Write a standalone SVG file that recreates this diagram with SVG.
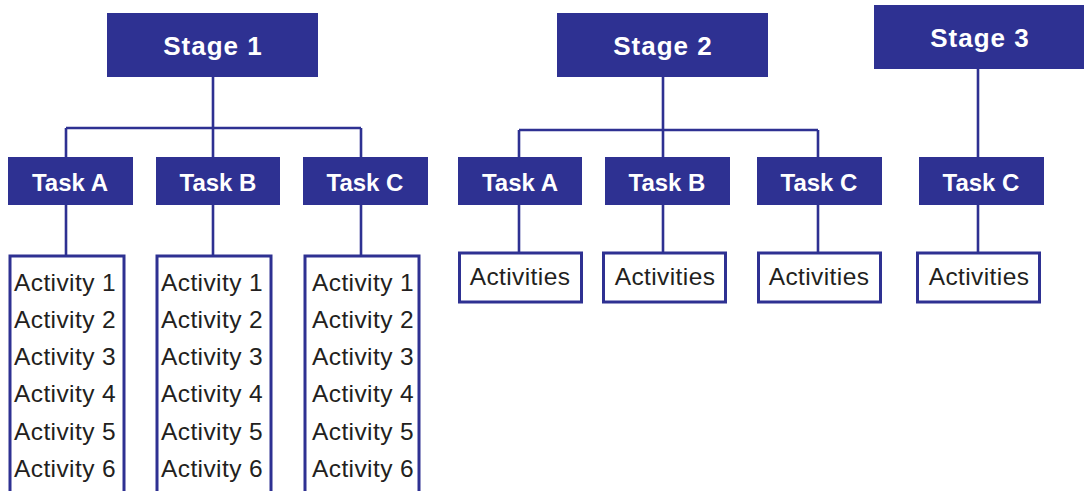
<svg xmlns="http://www.w3.org/2000/svg" width="1084" height="491" viewBox="0 0 1084 491">
  <style>
    .stage { fill: #2e3192; }
    .task { fill: #2e3192; }
    .act { fill: #ffffff; stroke: #2e3192; stroke-width: 3; }
    .link { fill: none; stroke: #2e3192; stroke-width: 2.6; }
    .hd { font-family: "Liberation Sans", Arial, sans-serif; font-weight: bold; fill: #ffffff; text-anchor: middle; }
    .st { font-size: 26px; letter-spacing: 1px; }
    .tk { font-size: 24px; }
    .body { font-family: "Liberation Sans", Arial, sans-serif; font-size: 24.5px; fill: #231f20; letter-spacing: 0.4px; }
    .mid { text-anchor: middle; }
  </style>

  <rect width="1084" height="491" fill="#ffffff"/>

  <g id="connectors">
    <!-- Stage 1 -->
    <path class="link" d="M213,77 V128 M66,128 H361 M66,128 V157 M213,128 V157 M361,128 V157"/>
    <path class="link" d="M66,205 V255 M213,205 V255 M361,205 V255"/>
    <!-- Stage 2 -->
    <path class="link" d="M663,77 V130 M519,130 H818 M519,130 V157 M663,130 V157 M818,130 V157"/>
    <path class="link" d="M519,205 V252 M663,205 V252 M818,205 V252"/>
    <!-- Stage 3 -->
    <path class="link" d="M978,69 V157 M978,205 V252"/>
  </g>

  <!-- Stage 1 branch -->
  <g id="stage1">
    <rect class="stage" x="107" y="13" width="211" height="64"/>
    <text class="hd st" x="213" y="55">Stage 1</text>
  </g>
  <g id="s1-taskA">
    <rect class="task" x="8" y="157" width="125" height="48"/>
    <text class="hd tk" x="70" y="191">Task A</text>
  </g>
  <g id="s1-taskB">
    <rect class="task" x="156" y="157" width="124" height="48"/>
    <text class="hd tk" x="218" y="191">Task B</text>
  </g>
  <g id="s1-taskC">
    <rect class="task" x="303" y="157" width="125" height="48"/>
    <text class="hd tk" x="365" y="191">Task C</text>
  </g>
  <g id="s1-taskA-activities">
    <rect class="act" x="10" y="256" width="114" height="250"/>
    <text class="body" x="14" y="291">Activity 1</text>
    <text class="body" x="14" y="328">Activity 2</text>
    <text class="body" x="14" y="365">Activity 3</text>
    <text class="body" x="14" y="402">Activity 4</text>
    <text class="body" x="14" y="440">Activity 5</text>
    <text class="body" x="14" y="477">Activity 6</text>
  </g>
  <g id="s1-taskB-activities">
    <rect class="act" x="157" y="256" width="114" height="250"/>
    <text class="body" x="161" y="291">Activity 1</text>
    <text class="body" x="161" y="328">Activity 2</text>
    <text class="body" x="161" y="365">Activity 3</text>
    <text class="body" x="161" y="402">Activity 4</text>
    <text class="body" x="161" y="440">Activity 5</text>
    <text class="body" x="161" y="477">Activity 6</text>
  </g>
  <g id="s1-taskC-activities">
    <rect class="act" x="305" y="256" width="114" height="250"/>
    <text class="body" x="312" y="291">Activity 1</text>
    <text class="body" x="312" y="328">Activity 2</text>
    <text class="body" x="312" y="365">Activity 3</text>
    <text class="body" x="312" y="402">Activity 4</text>
    <text class="body" x="312" y="440">Activity 5</text>
    <text class="body" x="312" y="477">Activity 6</text>
  </g>

  <!-- Stage 2 branch -->
  <g id="stage2">
    <rect class="stage" x="557" y="13" width="211" height="64"/>
    <text class="hd st" x="663" y="55">Stage 2</text>
  </g>
  <g id="s2-taskA">
    <rect class="task" x="458" y="157" width="124" height="48"/>
    <text class="hd tk" x="520" y="191">Task A</text>
  </g>
  <g id="s2-taskB">
    <rect class="task" x="605" y="157" width="125" height="48"/>
    <text class="hd tk" x="667" y="191">Task B</text>
  </g>
  <g id="s2-taskC">
    <rect class="task" x="757" y="157" width="125" height="48"/>
    <text class="hd tk" x="819" y="191">Task C</text>
  </g>
  <g id="s2-taskA-activities">
    <rect class="act" x="459.5" y="253" width="122" height="49"/>
    <text class="body mid" x="520" y="285">Activities</text>
  </g>
  <g id="s2-taskB-activities">
    <rect class="act" x="603.5" y="253" width="122" height="49"/>
    <text class="body mid" x="665" y="285">Activities</text>
  </g>
  <g id="s2-taskC-activities">
    <rect class="act" x="758.5" y="253" width="122" height="49"/>
    <text class="body mid" x="819" y="285">Activities</text>
  </g>

  <!-- Stage 3 branch -->
  <g id="stage3">
    <rect class="stage" x="874" y="5" width="212" height="64"/>
    <text class="hd st" x="980" y="47">Stage 3</text>
  </g>
  <g id="s3-taskC">
    <rect class="task" x="919" y="157" width="125" height="48"/>
    <text class="hd tk" x="981" y="191">Task C</text>
  </g>
  <g id="s3-taskC-activities">
    <rect class="act" x="917.5" y="253" width="122" height="49"/>
    <text class="body mid" x="979" y="285">Activities</text>
  </g>
</svg>
